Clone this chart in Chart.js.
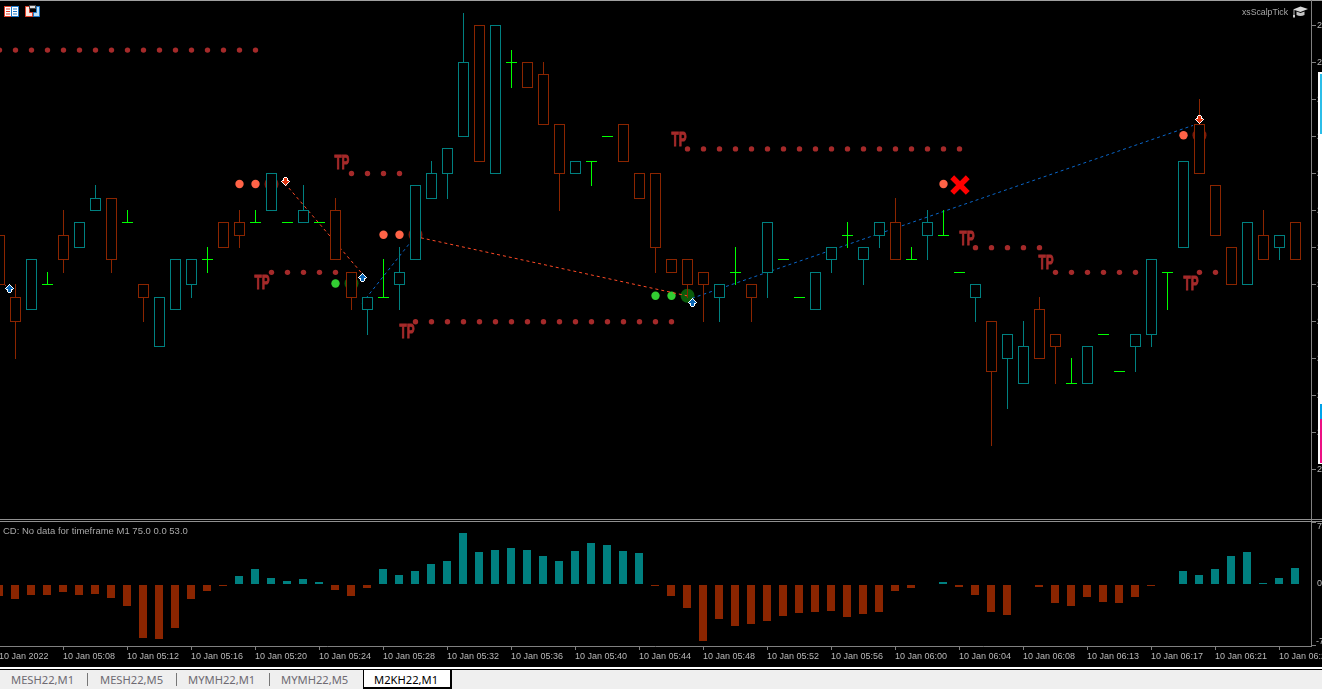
<!DOCTYPE html>
<html>
<head>
<meta charset="utf-8">
<title>M2KH22,M1</title>
<script src="https://cdn.jsdelivr.net/npm/chart.js@4"></script>
<style>
html, body { margin: 0; padding: 0; background: #000; width: 1322px; height: 689px; overflow: hidden; }
canvas, .box, .tab, svg, .cap { position: absolute; display: block; }
.cap { font: 9.5px "Liberation Sans", sans-serif; color: #a8a8a8; white-space: nowrap; }
.tab { top: 672px; font: 11.2px "Noto Sans", sans-serif; color: #6e6a72; white-space: nowrap; }
</style>
</head>
<body>
<div class="box" style="left:0;top:0;width:1322px;height:1px;background:#a0a0a0"></div>
<div class="box" style="left:1311px;top:0;width:1px;height:647px;background:#808080"></div>
<canvas id="priceChart" width="1323" height="516" style="left:-1px;top:3px"></canvas>
<div class="box" style="left:0;top:519px;width:1322px;height:1px;background:#909090"></div>
<div class="box" style="left:0;top:521px;width:1322px;height:1px;background:#909090"></div>
<canvas id="cdChart" width="1323" height="142" style="left:-1px;top:522px"></canvas>

<div class="box" style="left:1318px;top:72px;width:4px;height:392px;background:#fff"></div>
<div class="box" style="left:1320px;top:74px;width:2px;height:60px;background:#2bbde8"></div>
<div class="box" style="left:1320px;top:404px;width:2px;height:15px;background:#00a2e8"></div>
<div class="box" style="left:1320px;top:419px;width:2px;height:44px;background:#ec0f83"></div>

<svg style="left:4px;top:6px" width="15" height="11" viewBox="0 0 15 11">
<rect x="0.5" y="0.5" width="14" height="10" fill="#fff" stroke="#e0402a"/>
<rect x="7.5" y="0.5" width="7" height="10" fill="#fff" stroke="#1e78c8"/>
<path d="M2 3h4M2 5.5h4M2 8h4" stroke="#e0402a"/><path d="M9 3h4M9 5.5h4M9 8h4" stroke="#1e78c8"/>
</svg>
<svg style="left:25px;top:5px" width="15" height="12" viewBox="0 0 15 12">
<path d="M0.5 1.5h4v6h3v4h-7z" fill="#fde8e0" stroke="#e0402a"/>
<path d="M14.5 1.5v10h-6v-4h3v-6z" fill="#bfe0f5" stroke="#1e78c8"/>
<rect x="4.5" y="0.5" width="6" height="3" fill="#ddd" stroke="#444"/>
</svg>
<div class="cap" style="left:1242px;top:7px;font-size:8.7px">xsScalpTick</div>
<svg style="left:1293px;top:6px" width="15" height="12" viewBox="0 0 15 12">
<path d="M0 3.5L7.5 0.5L15 3L7.5 6z" fill="#d8d8d8"/>
<path d="M3.5 5.5v3.5q4 2 8 0V5.5L7.5 7z" fill="#c4c4c4"/>
<path d="M1 4v5" stroke="#bbb"/><rect x="0" y="9" width="2" height="2.5" fill="#ccc"/>
</svg>
<div class="cap" style="left:3px;top:525px">CD: No data for timeframe M1 75.0 0.0 53.0</div>

<div class="box" style="left:0;top:667px;width:1322px;height:22px;background:#efefef"></div>
<div class="box" style="left:0;top:667px;width:1322px;height:2px;background:#fff"></div>
<div class="box" style="left:0;top:669px;width:1322px;height:1px;background:#000"></div>
<div class="box" style="left:87px;top:673px;width:1px;height:13px;background:#777"></div>
<div class="box" style="left:176px;top:673px;width:1px;height:13px;background:#777"></div>
<div class="box" style="left:269px;top:673px;width:1px;height:13px;background:#777"></div>
<div class="box" style="left:363px;top:669px;width:86px;height:17px;background:#fff;border:solid #000;border-width:1px 2px 2px 1px"></div>
<div class="tab" style="left:11px">MESH22,M1</div>
<div class="tab" style="left:100px">MESH22,M5</div>
<div class="tab" style="left:188px">MYMH22,M1</div>
<div class="tab" style="left:281px">MYMH22,M5</div>
<div class="tab" style="left:374px;color:#000">M2KH22,M1</div>

<script>
// one entry per M1 bar, left to right
var opens = [2191.9,2191.4,2191.3,2191.5,2191.9,2191.8,2192.1,2192.2,2192.0,2191.5,2191.0,2191.3,2191.5,2191.7,2192.0,2192.0,2192.0,2192.1,2192.0,2192.0,2192.0,2192.1,2191.6,2191.3,2191.4,2191.5,2191.7,2192.2,2192.4,2192.7,2193.6,2192.4,2193.3,2193.3,2193.2,2192.8,2192.4,2192.5,2192.7,2192.8,2192.4,2192.4,2191.7,2191.7,2191.6,2191.4,2191.6,2191.5,2191.6,2191.7,2191.4,2191.3,2191.7,2191.9,2191.7,2191.9,2192.0,2191.7,2191.9,2191.9,2191.6,2191.4,2191.2,2190.9,2190.7,2191.3,2191.1,2190.7,2190.7,2191.1,2190.8,2191.0,2191.1,2191.6,2191.8,2192.8,2192.3,2191.8,2191.5,2191.9,2191.8,2192.0];
var closes = [2191.5,2191.2,2191.7,2191.5,2191.7,2192.0,2192.2,2191.7,2192.0,2191.4,2191.4,2191.7,2191.7,2191.7,2191.8,2191.9,2192.0,2192.4,2192.0,2192.1,2192.0,2191.7,2191.4,2191.4,2191.4,2191.6,2192.3,2192.4,2192.6,2193.3,2192.5,2193.6,2193.3,2193.1,2192.8,2192.4,2192.5,2192.5,2192.7,2192.5,2192.2,2191.8,2191.6,2191.5,2191.5,2191.5,2191.6,2191.4,2192.0,2191.7,2191.4,2191.6,2191.8,2191.9,2191.8,2192.0,2191.7,2191.7,2192.0,2191.9,2191.6,2191.5,2190.8,2191.1,2191.0,2190.9,2191.0,2190.7,2191.0,2191.1,2190.8,2191.1,2191.7,2191.6,2192.5,2192.4,2191.9,2191.5,2192.0,2191.7,2191.9,2191.7];
var highs = [2191.9,2191.5,2191.7,2191.6,2192.1,2192.0,2192.3,2192.2,2192.1,2191.5,2191.4,2191.7,2191.7,2191.8,2192.0,2192.1,2192.1,2192.4,2192.0,2192.3,2192.0,2192.2,2191.6,2191.4,2191.7,2191.8,2192.3,2192.5,2192.6,2193.7,2193.6,2193.6,2193.4,2193.3,2193.3,2192.8,2192.5,2192.5,2192.7,2192.8,2192.4,2192.4,2191.7,2191.7,2191.6,2191.5,2191.8,2191.5,2192.0,2191.7,2191.4,2191.6,2191.8,2192.0,2191.8,2192.0,2192.2,2191.8,2192.1,2192.1,2191.6,2191.5,2191.2,2191.1,2191.2,2191.4,2191.1,2190.9,2191.0,2191.1,2190.8,2191.1,2191.7,2191.6,2192.5,2193.0,2192.3,2191.8,2192.0,2192.1,2191.9,2192.0];
var lows = [2191.5,2190.9,2191.3,2191.5,2191.6,2191.8,2192.1,2191.6,2192.0,2191.2,2191.0,2191.3,2191.4,2191.6,2191.8,2191.8,2192.0,2192.1,2192.0,2192.0,2192.0,2191.7,2191.3,2191.1,2191.4,2191.3,2191.7,2192.2,2192.2,2192.7,2192.5,2192.4,2193.1,2193.1,2192.8,2192.1,2192.4,2192.3,2192.7,2192.5,2192.2,2191.6,2191.6,2191.4,2191.2,2191.2,2191.5,2191.2,2191.4,2191.7,2191.4,2191.3,2191.6,2191.8,2191.5,2191.8,2191.7,2191.7,2191.7,2191.9,2191.6,2191.2,2190.2,2190.5,2190.7,2190.9,2190.7,2190.7,2190.7,2191.1,2190.8,2190.8,2191.0,2191.3,2191.8,2192.4,2191.9,2191.5,2191.5,2191.7,2191.7,2191.7];
var cdValues = [-1.37,-1.71,-1.26,-1.26,-0.91,-1.26,-1.14,-1.6,-2.51,-6.17,-6.29,-5.03,-1.71,-0.8,-0.23,0.91,1.71,0.69,0.34,0.57,0.23,-0.69,-1.37,-0.46,1.71,1.03,1.49,2.29,2.63,5.83,3.66,3.89,4.11,3.89,3.2,2.63,3.77,4.69,4.46,3.77,3.54,-0.23,-1.37,-2.74,-6.51,-4,-4.8,-4.57,-4.23,-3.66,-3.31,-3.2,-3.09,-3.77,-3.43,-3.2,-0.8,-0.46,0,0.23,-0.34,-1.26,-3.2,-3.54,0,-0.34,-2.17,-2.51,-1.49,-2.06,-2.17,-1.49,-0.23,0,1.49,1.03,1.71,3.2,3.66,0.11,0.69,1.83];

var timeLabels = ['10 Jan 2022','10 Jan 05:08','10 Jan 05:12','10 Jan 05:16','10 Jan 05:20','10 Jan 05:24','10 Jan 05:28','10 Jan 05:32','10 Jan 05:36','10 Jan 05:40','10 Jan 05:44','10 Jan 05:48','10 Jan 05:52','10 Jan 05:56','10 Jan 06:00','10 Jan 06:04','10 Jan 06:08','10 Jan 06:13','10 Jan 06:17','10 Jan 06:21','10 Jan 06:25'];
var priceTicks = [2190,2190.3,2190.6,2190.9,2191.2,2191.5,2191.8,2192.1,2192.4,2192.7,2193,2193.3,2193.6];
var cdTicks = [7,0,-7];

// take profit dotted levels, bar index from/to
var tpStart = [0,22,17,26,43,61,66,75];
var tpEnd = [16,25,21,42,60,65,71,76];
var tpPrice = [2193.4,2192.4,2191.6,2191.2,2192.6,2191.8,2191.6,2191.6];
var tpLabelBar = [21.4,16.41,25.47,42.47,60.47,65.41,74.47];
var tpLabelPrice = [2192.48,2191.51,2191.11,2192.67,2191.87,2191.67,2191.5];

var sellDotBar = [15,16,24,25,59,74];
var sellDotPrice = [2192.315,2192.315,2191.905,2191.905,2192.315,2192.71];
var sellDimBar = [17,26,75];
var sellDimPrice = [2192.315,2191.905,2192.71];
var buyDotBar = [21,41,42];
var buyDotPrice = [2191.51,2191.41,2191.41];
var buyDimBar = [22,43];
var buyDimPrice = [2191.51,2191.41];

var downArrowBar = [17.875,75];
var downArrowPrice = [2192.33576,2192.83799];
var upArrowBar = [0.625,22.6875,43.3125];
var upArrowPrice = [2191.46901,2191.55812,2191.35561];
var crossBar = [60.03];
var crossPrice = [2192.307];

// dashed trade lines, each is start and end
var sellLines = [[-0.03,2191.54,0.59,2191.47],[17.84,2192.32,22.66,2191.59],[25.97,2191.89,42.97,2191.41]];
var buyLines = [[22.66,2191.35,25.97,2191.89],[43.28,2191.39,74.59,2192.79]];

var tealColor = '#008080';
var redColor = '#8b2500';
var dojiColor = '#00ff00';
var axisColor = '#808080';
var textColor = '#b8b8b8';
var labelFont = { family: '"Liberation Sans", sans-serif', size: 9 };

function xy(bars, prices) {
    return bars.map(function (b, i) { return { x: b, y: prices[i] }; });
}

function candleColor(i) {
    if (closes[i] > opens[i]) return tealColor;
    if (closes[i] < opens[i]) return redColor;
    return dojiColor;
}

var barIdx = opens.map(function (v, i) { return i; });
var bodyIdx = barIdx.filter(function (i) { return opens[i] !== closes[i]; });
var dojiIdx = barIdx.filter(function (i) { return opens[i] === closes[i]; });

var tpDots = [];
tpStart.forEach(function (s, n) {
    for (var b = s; b <= tpEnd[n]; b++) tpDots.push({ x: b, y: tpPrice[n] });
});

// small pixel arrow with a white edge, rows of [y, x from, width]
var arrowRows = [[2,5,1],[3,4,3],[4,3,5],[5,2,7],[6,4,3],[7,4,3],[8,4,3]];

function makeArrow(color, up) {
    var c = document.createElement('canvas');
    c.width = 11; c.height = 11;
    var g = c.getContext('2d');
    g.translate(0, up ? 0 : 11);
    g.scale(1, up ? 1 : -1);
    g.fillStyle = '#fff';
    arrowRows.forEach(function (r) {
        g.fillRect(r[1] - 1, r[0], r[2] + 2, 1);
        g.fillRect(r[1], r[0] - 1, r[2], 3);
    });
    g.fillStyle = color;
    arrowRows.forEach(function (r) { g.fillRect(r[1], r[0], r[2], 1); });
    return c;
}

function dots(name, data, color, radius, order) {
    return { type: 'line', label: name, data: data, showLine: false, order: order,
             pointRadius: radius, pointBackgroundColor: color, pointBorderWidth: 0 };
}

function tradeLine(line, color) {
    return { type: 'line', data: [{ x: line[0], y: line[1] }, { x: line[2], y: line[3] }],
             borderColor: color, borderWidth: 1, borderDash: [3, 3], pointRadius: 0, tension: 0, order: 5 };
}

// MT5 draws bars on whole pixels, so round the bar ends the same way
var snapCandles = {
    id: 'snapCandles',
    afterDatasetsUpdate: function (chart) {
        chart.data.datasets.forEach(function (d, n) {
            var meta = chart.getDatasetMeta(n);
            if (meta.type !== 'bar') return;
            meta.data.forEach(function (el) {
                var top = Math.min(el.y, el.base), bottom = Math.max(el.y, el.base);
                el.y = Math.floor(top);
                el.base = Math.floor(bottom) + 1;
            });
        });
    }
};

var snapHistogram = {
    id: 'snapHistogram',
    afterDatasetsUpdate: function (chart) {
        chart.getDatasetMeta(0).data.forEach(function (el) {
            el.y = Math.round(el.y);
            el.base = Math.round(el.base);
        });
    }
};

var tpText = {
    id: 'tpText',
    afterDatasetsDraw: function (chart) {
        var ctx = chart.ctx;
        ctx.save();
        ctx.font = 'bold 20px "Liberation Sans", sans-serif';
        ctx.fillStyle = '#a52a2a';
        ctx.strokeStyle = '#a52a2a';
        ctx.lineWidth = 1;
        ctx.textAlign = 'center';
        ctx.textBaseline = 'middle';
        tpLabelBar.forEach(function (b, i) {
            var x = chart.scales.x.getPixelForValue(b), y = chart.scales.y.getPixelForValue(tpLabelPrice[i]);
            ctx.fillText('TP', x, y, 15);
            ctx.strokeText('TP', x, y, 15);
        });
        ctx.restore();
    }
};

// top and bottom labels of the CD pane sit inside the pane
var cdAxisText = {
    id: 'cdAxisText',
    afterDraw: function (chart) {
        var ctx = chart.ctx, y = chart.scales.y;
        ctx.save();
        ctx.font = '9px "Liberation Sans", sans-serif';
        ctx.fillStyle = textColor;
        ctx.textBaseline = 'middle';
        cdTicks.forEach(function (v) {
            var nudge = v > 0 ? 4 : (v < 0 ? -4 : 0);
            ctx.fillText(String(v), v < 0 ? 1317 : 1318, y.getPixelForValue(v) + nudge);
        });
        ctx.restore();
    }
};

var priceDatasets = [
    { type: 'bar', data: dojiIdx.map(function (i) { return { x: i, y: [opens[i], closes[i]] }; }),
      backgroundColor: dojiColor, barThickness: 11, grouped: false, inflateAmount: 0, order: 2 },
    { type: 'bar', data: bodyIdx.map(function (i) { return { x: i, y: [opens[i], closes[i]] }; }),
      backgroundColor: '#000', borderColor: bodyIdx.map(candleColor), borderWidth: 1, borderSkipped: false,
      barThickness: 11, grouped: false, inflateAmount: 0, order: 3 },
    { type: 'bar', data: barIdx.map(function (i) { return { x: i, y: [lows[i], highs[i]] }; }),
      backgroundColor: barIdx.map(candleColor), barThickness: 1, grouped: false, inflateAmount: 0, order: 4 },
    dots('tp', tpDots, '#a52a2a', 2.7, 6),
    dots('sell', xy(sellDotBar, sellDotPrice), '#ff6347', 4.2, 6),
    dots('sell dim', xy(sellDimBar, sellDimPrice), '#7e1a0c', 7, 6),
    dots('buy', xy(buyDotBar, buyDotPrice), '#32cd32', 4.2, 6),
    dots('buy dim', xy(buyDimBar, buyDimPrice), '#0a5c0a', 7, 6),
    { type: 'line', data: xy(downArrowBar, downArrowPrice), showLine: false, order: 0,
      pointStyle: makeArrow('#e0340f', false), pointRadius: 5 },
    { type: 'line', data: xy(upArrowBar, upArrowPrice), showLine: false, order: 0,
      pointStyle: makeArrow('#0a66b5', true), pointRadius: 5 },
    { type: 'line', data: xy(crossBar, crossPrice), showLine: false, order: 0,
      pointStyle: 'crossRot', pointRadius: 11, pointBorderColor: '#ff0000', pointBorderWidth: 5.5 }
];
sellLines.forEach(function (l) { priceDatasets.push(tradeLine(l, '#ff4a26')); });
buyLines.forEach(function (l) { priceDatasets.push(tradeLine(l, '#0a66c8')); });

var priceCtx = document.getElementById('priceChart').getContext('2d');
var priceChart = new Chart(priceCtx, {
    type: 'bar',
    data: { datasets: priceDatasets },
    plugins: [snapCandles, tpText],
    options: {
        animation: false,
        responsive: false,
        events: [],
        layout: { padding: 0, autoPadding: false },
        plugins: { legend: { display: false }, tooltip: { enabled: false } },
        scales: {
            x: { type: 'linear', display: false, offset: false, min: -0.03125, max: 81.96875 },
            y: {
                position: 'right',
                offset: false,
                min: 2189.60186,
                max: 2193.78169,
                border: { color: axisColor },
                grid: { drawOnChartArea: false, offset: false, color: axisColor, tickLength: 5 },
                ticks: {
                    color: textColor, font: labelFont, padding: 1, autoSkip: false,
                    callback: function (v) { return v.toFixed(1); }
                },
                afterBuildTicks: function (scale) {
                    scale.ticks = priceTicks.map(function (v) { return { value: v }; });
                },
                afterFit: function (scale) {
                    scale.width = 11;
                    scale.paddingTop = 0;
                    scale.paddingBottom = 0;
                }
            }
        }
    }
});

var cdCtx = document.getElementById('cdChart').getContext('2d');
var cdChart = new Chart(cdCtx, {
    type: 'bar',
    data: {
        datasets: [{
            data: cdValues.map(function (v, i) { return { x: i, y: v }; }),
            backgroundColor: cdValues.map(function (v) { return v >= 0 ? tealColor : redColor; }),
            barThickness: 8,
            inflateAmount: 0
        }]
    },
    plugins: [snapHistogram, cdAxisText],
    options: {
        animation: false,
        responsive: false,
        events: [],
        layout: { padding: 0, autoPadding: false },
        plugins: { legend: { display: false }, tooltip: { enabled: false } },
        scales: {
            x: {
                type: 'linear',
                position: 'bottom',
                offset: false,
                min: 0,
                max: 82,
                border: { color: axisColor },
                grid: { drawOnChartArea: false, offset: false, color: axisColor, tickLength: 4 },
                ticks: {
                    color: textColor, font: labelFont, padding: 1, align: 'start',
                    autoSkip: false, maxRotation: 0,
                    callback: function (v) { return timeLabels[v / 4]; }
                },
                afterBuildTicks: function (scale) {
                    scale.ticks = timeLabels.map(function (t, i) { return { value: i * 4 }; });
                },
                afterFit: function (scale) {
                    scale.height = 18;
                    scale.paddingLeft = 0;
                    scale.paddingRight = 0;
                }
            },
            y: {
                position: 'right',
                offset: false,
                min: -7.086,
                max: 7.086,
                border: { color: axisColor },
                grid: {
                    drawOnChartArea: false, tickLength: 5,
                    tickColor: function (c) { return c.tick && c.tick.value === 0 ? 'transparent' : axisColor; }
                },
                ticks: { callback: function () { return ''; }, autoSkip: false },
                afterBuildTicks: function (scale) {
                    scale.ticks = cdTicks.map(function (v) { return { value: v }; });
                },
                afterFit: function (scale) {
                    scale.width = 11;
                    scale.paddingTop = 0;
                    scale.paddingBottom = 0;
                }
            }
        }
    }
});
</script>
</body>
</html>
